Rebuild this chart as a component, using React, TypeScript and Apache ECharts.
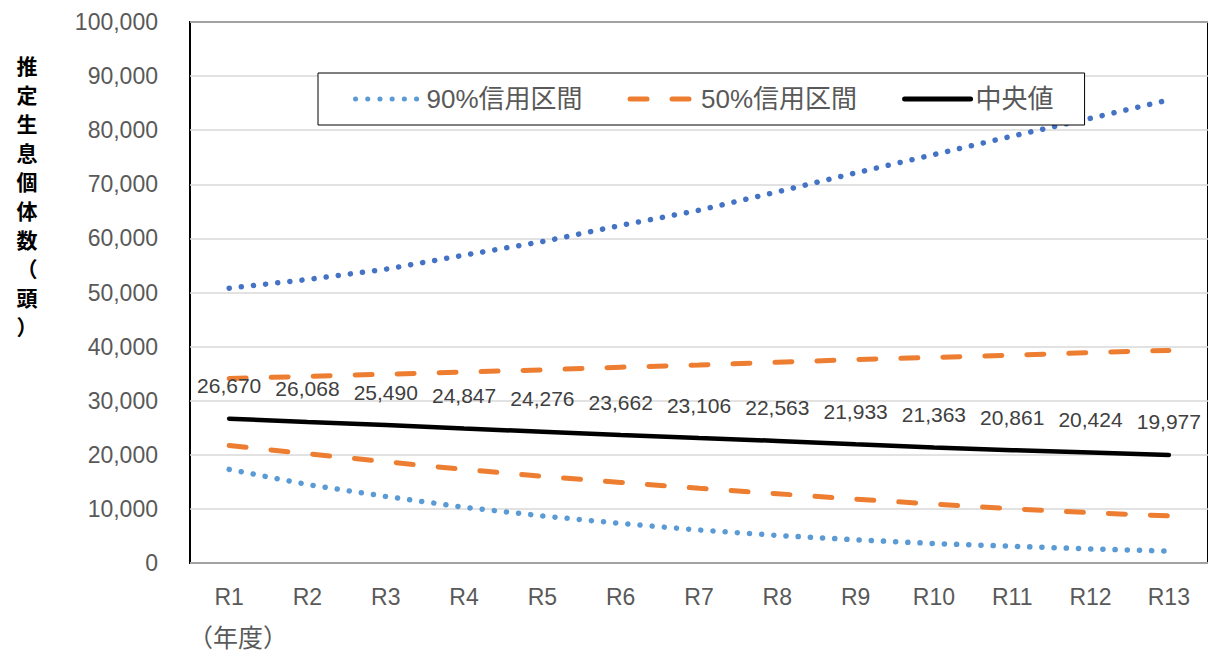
import React, { useEffect, useRef } from "react";
import * as echarts from "echarts";

const categories = ["R1", "R2", "R3", "R4", "R5", "R6", "R7", "R8", "R9", "R10", "R11", "R12", "R13"];
const median = [26670, 26068, 25490, 24847, 24276, 23662, 23106, 22563, 21933, 21363, 20861, 20424, 19977];
const upper90 = [50800, 52400, 54300, 56900, 59400, 62400, 65200, 68600, 72100, 75500, 78900, 82200, 85600];
const lower90 = [17300, 14500, 12300, 10300, 8700, 7300, 6100, 5100, 4300, 3600, 3100, 2600, 2200];
const upper50 = [34100, 34500, 34900, 35300, 35700, 36200, 36600, 37100, 37600, 38000, 38400, 38900, 39300];
const lower50 = [21700, 20200, 18700, 17300, 16000, 14900, 13800, 12800, 11800, 10900, 10000, 9300, 8700];
const yTicks = { min: 0, max: 100000, interval: 10000 };
const name90 = "90%信用区間";
const name50 = "50%信用区間";
const nameMed = "中央値";
const yTitle = "推定生息個体数（頭）";
const xTitle = "（年度）";

const FONT = "'Liberation Sans', 'Noto Sans CJK JP', sans-serif";
const fmt = (v: number) => Math.round(v).toLocaleString("en-US");

export default function App() {
  const ref = useRef<HTMLDivElement>(null);
  useEffect(() => {
    if (!ref.current) return;
    const chart = echarts.init(ref.current, null, { renderer: "svg" });
    const dotted = { width: 5.5, type: [0.1, 12.1], cap: "round" as const };
    const dashed = { width: 5, type: [17, 25], cap: "round" as const, color: "#ED7D31" };
    chart.setOption({
      animation: false,
      backgroundColor: "#fff",
      grid: {
        left: 190,
        right: -10,
        top: 22,
        bottom: 90,
        show: true,
        borderColor: "#000",
        borderWidth: 2,
        backgroundColor: "transparent",
      },
      legend: {
        left: 318,
        top: 73,
        data: [name90, name50, nameMed],
        itemWidth: 66,
        itemHeight: 26,
        itemGap: 45,
        padding: [13, 31, 13, 35],
        borderColor: "#000",
        borderWidth: 1,
        backgroundColor: "#fff",
        textStyle: { fontSize: 26, color: "#595959", fontFamily: FONT },
        lineStyle: { width: 5 },
        itemStyle: { opacity: 0 },
        selectedMode: false,
      },
      xAxis: {
        type: "category",
        data: categories,
        boundaryGap: true,
        axisLine: { show: false },
        axisTick: { show: false },
        axisLabel: { fontSize: 23, color: "#595959", margin: 22, fontFamily: FONT },
        splitLine: { show: false },
      },
      yAxis: {
        type: "value",
        min: yTicks.min,
        max: yTicks.max,
        interval: yTicks.interval,
        axisLine: { show: false },
        axisTick: { show: false },
        axisLabel: { fontSize: 23, color: "#595959", margin: 32, fontFamily: FONT, formatter: fmt },
        splitLine: { lineStyle: { color: "#D9D9D9", width: 1.5 } },
      },
      graphic: [
        {
          type: "text",
          x: 27,
          y: 50,
          style: {
            text: yTitle.split("").join("\n"),
            fontSize: 21,
            fontWeight: "bold",
            lineHeight: 29,
            fill: "#000",
            textAlign: "center",
            textVerticalAlign: "top",
            fontFamily: "'Noto Sans CJK JP', sans-serif",
          },
        },
        {
          type: "text",
          x: 188,
          y: 636,
          style: {
            text: xTitle,
            fontSize: 25,
            fill: "#595959",
            textVerticalAlign: "middle",
            fontFamily: "'Noto Sans CJK JP', sans-serif",
          },
        },
      ],
      series: [
        {
          name: name90,
          type: "line",
          data: lower90,
          symbol: "none",
          color: "#5B9BD5",
          lineStyle: { ...dotted, color: "#5B9BD5" },
        },
        {
          name: name90,
          type: "line",
          data: upper90,
          symbol: "none",
          color: "#4472C4",
          lineStyle: { ...dotted, color: "#4472C4" },
        },
        {
          name: name50,
          type: "line",
          data: lower50,
          symbol: "none",
          color: "#ED7D31",
          lineStyle: dashed,
        },
        {
          name: name50,
          type: "line",
          data: upper50,
          symbol: "none",
          color: "#ED7D31",
          lineStyle: dashed,
        },
        {
          name: nameMed,
          type: "line",
          data: median,
          symbol: "circle",
          symbolSize: 1,
          showSymbol: true,
          color: "#000",
          itemStyle: { color: "#000" },
          lineStyle: { width: 4.5, color: "#000", cap: "round" },
          label: {
            show: true,
            position: "top",
            distance: 22,
            fontSize: 21,
            color: "#404040",
            fontFamily: FONT,
            formatter: (p: any) => fmt(p.value),
          },
        },
      ],
    });
    return () => chart.dispose();
  }, []);
  return (
    <div
      ref={ref}
      style={{ position: "absolute", left: 0, top: 0, width: 1208, height: 653, background: "#fff" }}
    />
  );
}
